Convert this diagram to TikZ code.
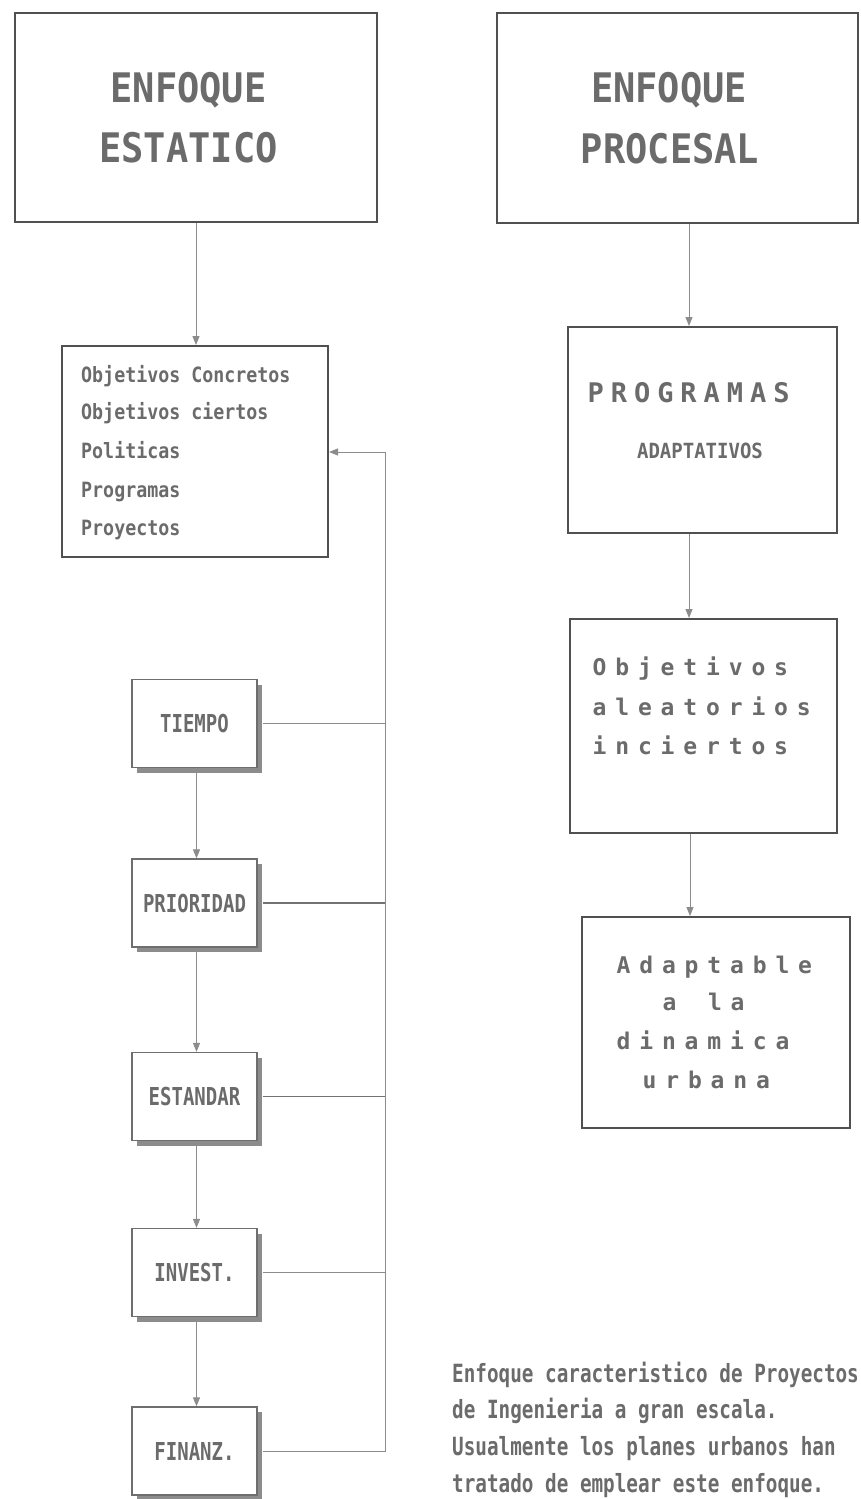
\documentclass[tikz,border=0pt]{standalone}
\usepackage{fontspec}
\usepackage{graphicx}
\usetikzlibrary{arrows.meta,shadows}
\newfontfamily\monoface{DejaVu Sans Mono}
\definecolor{ink}{HTML}{6B6B6B}
\definecolor{framecol}{HTML}{505050}
\definecolor{smallcol}{HTML}{6E6E6E}
\definecolor{wirecol}{HTML}{8C8C8C}

% vertical stretch for the tall printer letters
\newcommand\tall[2]{\scalebox{1}[#1]{#2}}
% fixed-pitch letter spacing: every character sits in a box of width #1
\makeatletter
\newcommand\pitched[2]{\def\pt@w{#1}\pt@loop#2\relax}
\def\pt@loop#1{\ifx#1\relax\else\makebox[\pt@w][c]{#1}\expandafter\pt@loop\fi}
\makeatother

\begin{document}
\begin{tikzpicture}[x=1pt,y=-1pt,
  bigframe/.style={draw=framecol, line width=2pt, fill=white, inner sep=0pt},
  smallbox/.style={draw=smallcol, line width=1.3pt, fill=white, inner sep=0pt,
    minimum width=125pt, minimum height=88pt, text=ink,
    font=\monoface\bfseries\fontsize{19}{19}\selectfont,
    drop shadow={shadow xshift=5pt, shadow yshift=-5pt, opacity=1, fill=black!45}},
  txt/.style={inner sep=0pt, text=ink},
  titlefont/.style={font=\monoface\bfseries\fontsize{37}{37}\selectfont},
  listfont/.style={font=\monoface\bfseries\fontsize{18.3}{18.3}\selectfont},
  widefont/.style={font=\monoface\bfseries\fontsize{23}{23}\selectfont},
  wire/.style={draw=wirecol, line width=1pt},
  arr/.style={wire, -{Triangle[width=7pt,length=9pt]}}
]
\useasboundingbox[fill=white] (0,0) rectangle (861,1499);

% ---------- headers ----------
\node[bigframe, minimum width=362pt, minimum height=209pt] (est) at (196,117.5) {};
\node[txt, titlefont, anchor=base] (est-a) at (188.5,102) {\tall{1.1}{ENFOQUE}};
\node[txt, titlefont, anchor=base] (est-b) at (188.5,162) {\tall{1.1}{ESTATICO}};

\node[bigframe, minimum width=361pt, minimum height=210pt] (proc) at (677.5,118) {};
\node[txt, titlefont, anchor=base] (proc-a) at (669,102) {\tall{1.1}{ENFOQUE}};
\node[txt, titlefont, anchor=base] (proc-b) at (670,163) {\tall{1.1}{PROCESAL}};

% ---------- static branch ----------
\node[bigframe, minimum width=266pt, minimum height=211pt] (obj) at (195,451.5) {};
\node[txt, listfont, anchor=base west] (obj-1) at (81,382) {\tall{1.15}{Objetivos Concretos}};
\node[txt, listfont, anchor=base west] (obj-2) at (81,419) {\tall{1.15}{Objetivos ciertos}};
\node[txt, listfont, anchor=base west] (obj-3) at (81,458) {\tall{1.15}{Politicas}};
\node[txt, listfont, anchor=base west] (obj-4) at (81,497) {\tall{1.15}{Programas}};
\node[txt, listfont, anchor=base west] (obj-5) at (81,535) {\tall{1.15}{Proyectos}};

\node[smallbox] (tie) at (194.5,723.5) {\tall{1.3}{TIEMPO}};
\node[smallbox] (pri) at (194.5,903)   {\tall{1.3}{PRIORIDAD}};
\node[smallbox] (sta) at (194.5,1096.5){\tall{1.3}{ESTANDAR}};
\node[smallbox] (inv) at (194.5,1272.5){\tall{1.3}{INVEST.}};
\node[smallbox] (fin) at (194.5,1451)  {\tall{1.3}{FINANZ.}};

\draw[arr] (est.south) -- (est.south |- obj.north);
\draw[arr] ([xshift=2pt]tie.south) -- ([xshift=2pt]pri.north);
\draw[arr] ([xshift=2pt]pri.south) -- ([xshift=2pt]sta.north);
\draw[arr] ([xshift=2pt]sta.south) -- ([xshift=2pt]inv.north);
\draw[arr] ([xshift=2pt]inv.south) -- ([xshift=2pt]fin.north);

% feedback bus back to the objectives box
\coordinate (bustop) at (385,452);
\draw[wire] ([xshift=5pt]fin.east) -- (fin.east -| bustop) -- (bustop);
\draw[arr] (bustop) -- (obj.east |- bustop);
\draw[wire] ([xshift=5pt]tie.east) -- (tie.east -| bustop);
\draw[wire, line width=1.6pt, draw=framecol!80] ([xshift=5pt]pri.east) -- (pri.east -| bustop);
\draw[wire, line width=1.6pt, draw=framecol!80] ([xshift=5pt]sta.east) -- (sta.east -| bustop);
\draw[wire, line width=1.3pt] ([xshift=5pt]inv.east) -- (inv.east -| bustop);

% ---------- process branch ----------
\coordinate (px) at (689,0);
\node[bigframe, minimum width=269pt, minimum height=206pt] (prog) at (702.5,430) {};
\node[txt, font=\monoface\bfseries\fontsize{27}{27}\selectfont, anchor=base west] (prog-a) at (584,402) {\pitched{23.2pt}{PROGRAMAS}};
\node[txt, font=\monoface\bfseries\fontsize{19}{19}\selectfont, anchor=base] (prog-b) at (700,458) {\tall{1.1}{ADAPTATIVOS}};

\node[bigframe, minimum width=267pt, minimum height=214pt] (alea) at (703.5,726) {};
\node[txt, widefont, anchor=base west] (alea-1) at (588,675) {\pitched{22.7pt}{Objetivos}};
\node[txt, widefont, anchor=base west] (alea-2) at (588,715) {\pitched{22.7pt}{aleatorios}};
\node[txt, widefont, anchor=base west] (alea-3) at (588,754) {\pitched{22.7pt}{inciertos}};

\node[bigframe, minimum width=268pt, minimum height=211pt] (adap) at (716,1022.5) {};
\node[txt, widefont, anchor=base west] (adap-1) at (612,973)  {\pitched{22.7pt}{Adaptable}};
\node[txt, widefont, anchor=base west] (adap-2) at (658,1010) {\pitched{22.7pt}{a~la}};
\node[txt, widefont, anchor=base west] (adap-3) at (612,1049) {\pitched{22.7pt}{dinamica}};
\node[txt, widefont, anchor=base west] (adap-4) at (638,1088) {\pitched{22.7pt}{urbana}};

\draw[arr] (proc.south -| px) -- (prog.north -| px);
\draw[arr] (prog.south -| px) -- (alea.north -| px);
\draw[arr] ([xshift=1pt]alea.south -| px) -- ([xshift=1pt]adap.north -| px);

% ---------- note ----------
\begin{scope}[every node/.style={txt, anchor=base west, font=\monoface\bfseries\fontsize{19.3}{19.3}\selectfont}]
\node (note-1) at (452,1382) {\tall{1.3}{Enfoque caracteristico de Proyectos}};
\node (note-2) at (452,1418) {\tall{1.3}{de Ingenieria a gran escala.}};
\node (note-3) at (452,1455) {\tall{1.3}{Usualmente los planes urbanos han}};
\node (note-4) at (452,1492) {\tall{1.3}{tratado de emplear este enfoque.}};
\end{scope}
\end{tikzpicture}
\end{document}
